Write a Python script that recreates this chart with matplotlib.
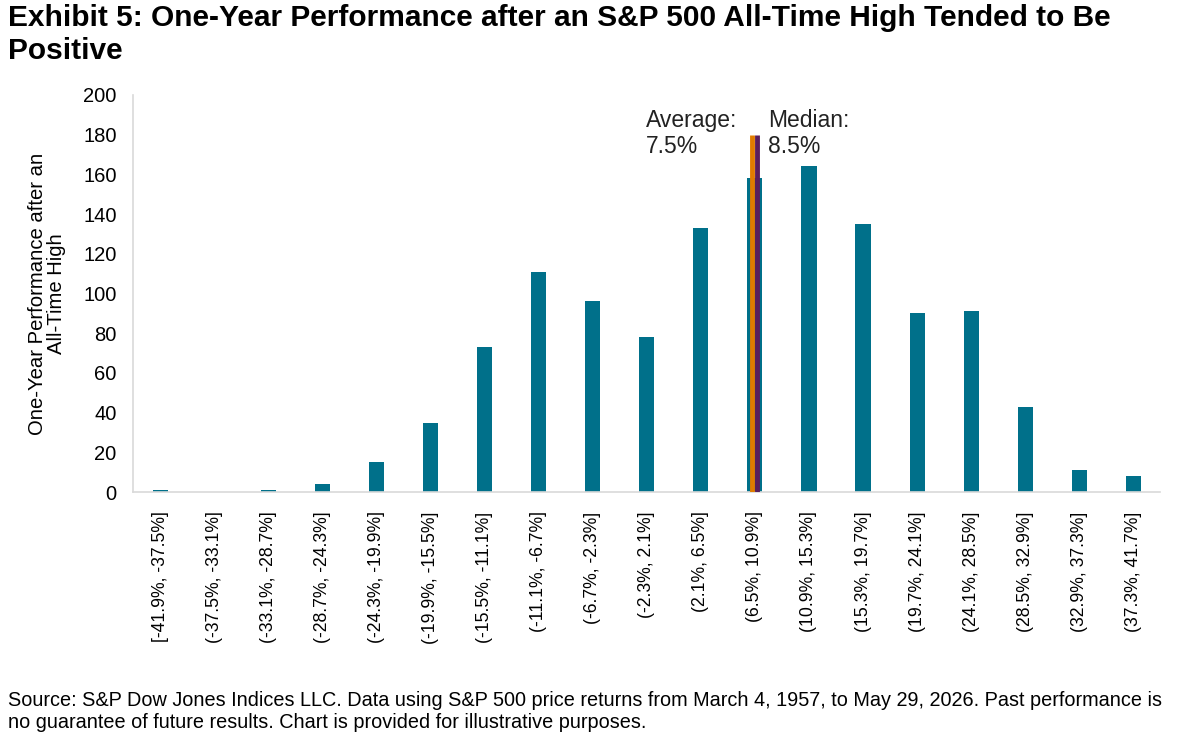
import matplotlib
matplotlib.use("Agg")
import matplotlib.pyplot as plt
import numpy as np

plt.rcParams["font.family"] = ["Liberation Sans", "DejaVu Sans"]

# bins of one-year returns after an all-time high
bins = ["[-41.9%, -37.5%]", "(-37.5%, -33.1%]", "(-33.1%, -28.7%]", "(-28.7%, -24.3%]",
        "(-24.3%, -19.9%]", "(-19.9%, -15.5%]", "(-15.5%, -11.1%]", "(-11.1%, -6.7%]",
        "(-6.7%, -2.3%]", "(-2.3%, 2.1%]", "(2.1%, 6.5%]", "(6.5%, 10.9%]",
        "(10.9%, 15.3%]", "(15.3%, 19.7%]", "(19.7%, 24.1%]", "(24.1%, 28.5%]",
        "(28.5%, 32.9%]", "(32.9%, 37.3%]", "(37.3%, 41.7%]"]
counts = [1, 0, 1, 4, 15, 35, 73, 111, 96, 78, 133, 158, 164, 135, 90, 91, 43, 11, 8]
avg_ret = 7.5
med_ret = 8.5
line_top = 180

BAR = "#00708a"
ORANGE = "#e07c00"
PURPLE = "#5a1f5c"
GRAY = "#d9d9d9"

fig = plt.figure(figsize=(12, 7.38), dpi=100)
ax = fig.add_axes([0.111, 0.3333, 0.856, 0.538])

x = np.arange(len(bins))
ax.bar(x, counts, width=0.28, color=BAR, zorder=2)

# average / median markers inside the (6.5%, 10.9%] bin
hit = 11
def pos(v):
    return hit + (v - 8.0) * 0.09

ax.vlines(pos(avg_ret), 0, line_top, color=ORANGE, lw=3.5, zorder=3)
ax.vlines(pos(med_ret), 0, line_top, color=PURPLE, lw=3.5, zorder=3)
ax.text(hit - 2.02, 193, f"Average:\n{avg_ret}%", fontsize=16.5, va="top", ha="left",
        linespacing=1.15, color="#222222")
ax.text(hit + 0.24, 193, f"Median:\n{med_ret}%", fontsize=16.5, va="top", ha="left",
        linespacing=1.15, color="#222222")

ax.set_xlim(-0.5, len(bins) - 0.5)
ax.set_ylim(0, 200)
ax.set_yticks(np.arange(0, 201, 20))
ax.set_xticks(x)
ax.set_xticklabels(bins, rotation=90, fontsize=12.7)
ax.tick_params(axis="y", labelsize=14.5, length=0, pad=12)
ax.tick_params(axis="x", length=0, pad=14)
for s in ["top", "right"]:
    ax.spines[s].set_visible(False)
for s in ["left", "bottom"]:
    ax.spines[s].set_color(GRAY)
    ax.spines[s].set_linewidth(1.2)

ax.set_ylabel("One-Year Performance after an\nAll-Time High", fontsize=14.6,
              linespacing=1.05, labelpad=12)

fig.text(0.007, 0.995, "Exhibit 5: One-Year Performance after an S&P 500 All-Time High Tended to Be\nPositive",
         fontsize=21.5, fontweight="bold", va="top", ha="left", linespacing=1.25)
fig.text(0.007, 0.008,
         "Source: S&P Dow Jones Indices LLC. Data using S&P 500 price returns from March 4, 1957, to May 29, 2026. Past performance is\n"
         "no guarantee of future results. Chart is provided for illustrative purposes.",
         fontsize=14.3, va="bottom", ha="left", linespacing=1.2)

fig.savefig("out.png", dpi=100)
